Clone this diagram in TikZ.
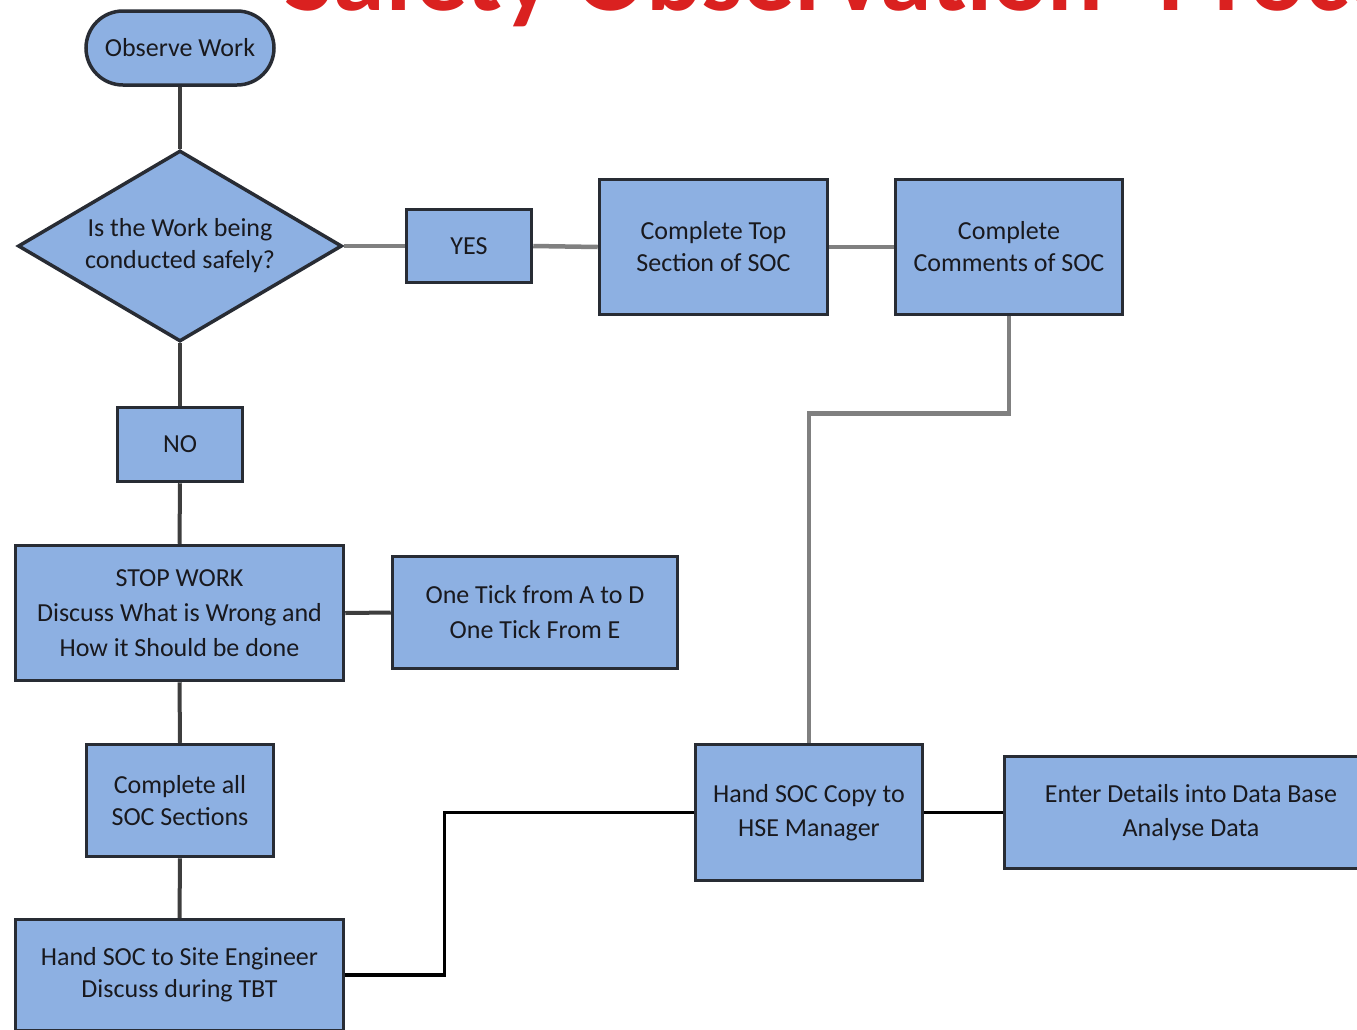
\documentclass[tikz,border=0pt]{standalone}
\usepackage{fontspec}
\setmainfont{Carlito}
\usetikzlibrary{shapes.geometric}
\definecolor{boxfill}{RGB}{141,176,226}
\definecolor{boxedge}{RGB}{40,44,52}
\definecolor{titlered}{RGB}{218,33,32}
\definecolor{lgrey}{RGB}{128,128,128}
\definecolor{dgrey}{RGB}{62,62,62}
\definecolor{txt}{RGB}{25,25,30}
\begin{document}
\begin{tikzpicture}[x=1pt,y=-1pt,
  box/.style={draw=boxedge, line width=3.5pt, fill=boxfill, align=center, inner sep=0pt,
    font=\fontsize{26}{32}\selectfont, text=txt},
  greyline/.style={draw=lgrey, line width=4.5pt},
  darkline/.style={draw=dgrey, line width=4pt},
  blackline/.style={draw=black, line width=3.5pt}]
\useasboundingbox (0,0) rectangle (1357,1029);
\clip (0,0) rectangle (1357,1029);
\fill[white] (0,0) rectangle (1357,1029);

% title (cut off at top)
\node[anchor=base west, inner sep=0pt, text=titlered,
  font=\fontsize{104}{104}\selectfont\bfseries] (title) at (284,10.5)
  {Safety Observation\hspace{55pt}Process};

% nodes
\node[box, rounded corners=37pt, minimum width=188pt, minimum height=74pt] (obs) at (180,48) {Observe Work};
\node[box, diamond, aspect=1.7, minimum width=324pt, minimum height=191pt] (dia) at (180,246) {Is the Work being\\conducted safely?};
\node[box, minimum width=125pt, minimum height=73pt] (yes) at (469,246) {YES};
\node[box, minimum width=228pt, minimum height=135pt] (top) at (713.5,247) {Complete Top\\Section of SOC};
\node[box, minimum width=227pt, minimum height=135pt] (comm) at (1009,247) {Complete\\Comments of SOC};
\node[box, minimum width=125pt, minimum height=74pt] (no) at (180,444.5) {NO};
\node[box, minimum width=328pt, minimum height=135pt] (stop) at (179.5,613) {STOP WORK\\[3pt]Discuss What is Wrong and\\[3pt]How it Should be done};
\node[box, minimum width=285pt, minimum height=112pt] (tick) at (535,612.5) {One Tick from A to D\\[3pt]One Tick From E};
\node[box, minimum width=187pt, minimum height=112pt] (call) at (180,800.5) {Complete all\\SOC Sections};
\node[box, minimum width=328pt, minimum height=111pt] (site) at (179.5,975) {Hand SOC to Site Engineer\\Discuss during TBT};
\node[box, minimum width=227pt, minimum height=136pt] (copy) at (809,812.5) {Hand SOC Copy to\\[2pt]HSE Manager};
\node[box, minimum width=373pt, minimum height=112pt] (enter) at (1191,812.5) {Enter Details into Data Base\\[2pt]Analyse Data};

% connectors
\draw[greyline] (dia.east) -- (yes.west);
\draw[greyline] (yes.east) -- (top.west);
\draw[greyline] (top.east) -- (comm.west);
\draw[greyline] (comm.south) -- ++(0,97) -| (copy.north);
\draw[darkline] (obs.south) -- (dia.north);
\draw[darkline] (dia.south) -- (no.north);
\draw[darkline] (no.south) -- (stop.north);
\draw[darkline] (stop.east) -- (tick.west);
\draw[darkline] (stop.south) -- (call.north);
\draw[darkline] (call.south) -- (site.north);
\draw[blackline] (site.east) -- ++(99,0) |- (copy.west);
\draw[blackline] (copy.east) -- (enter.west);
\end{tikzpicture}
\end{document}
